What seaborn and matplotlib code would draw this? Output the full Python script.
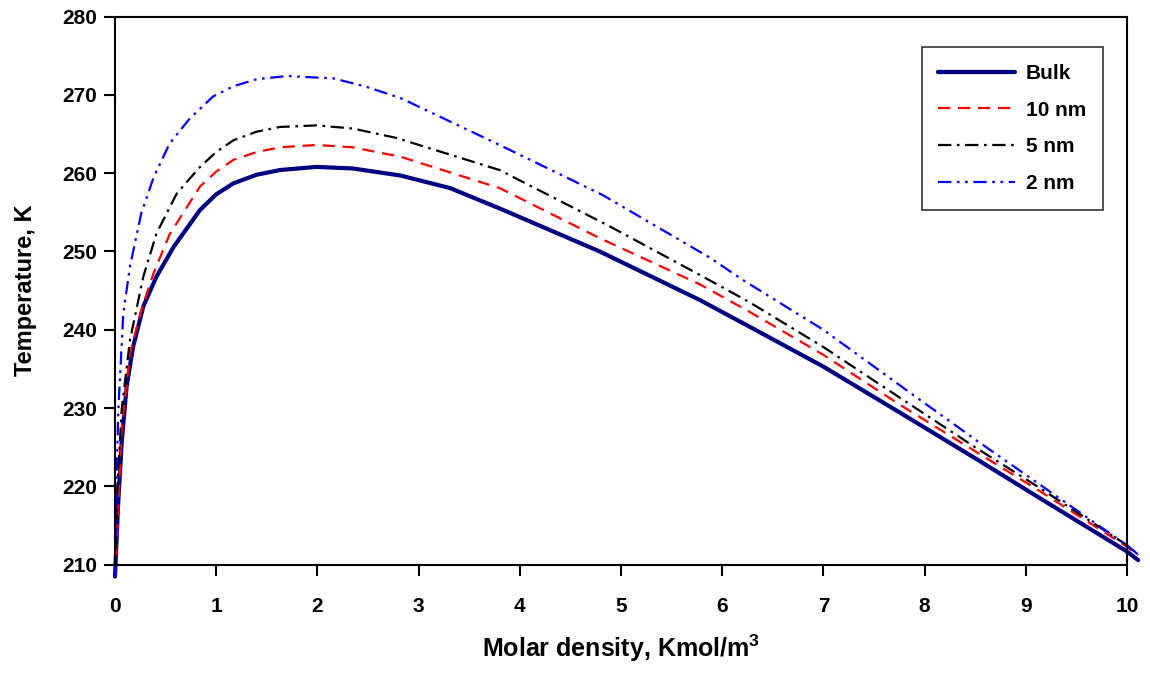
import pandas as pd
import matplotlib
matplotlib.use("Agg")
import matplotlib.pyplot as plt
import seaborn as sns

# Values (molar density in Kmol/m3, temperature in K)
bulk_x = [0.0, 0.03, 0.066, 0.115, 0.18, 0.28, 0.41, 0.58, 0.84, 1.0, 1.17, 1.4, 1.63, 1.99,
          2.35, 2.82, 3.31, 3.80, 4.79, 5.78, 6.27, 7.0, 7.76, 8.5, 9.14, 10.0, 10.11]
bulk_t = [208.5, 217.5, 225.6, 232.8, 237.9, 243.0, 246.8, 250.6, 255.3, 257.3, 258.7, 259.8, 260.4, 260.8,
          260.6, 259.7, 258.1, 255.5, 250.0, 243.8, 240.4, 235.3, 229.4, 223.6, 218.5, 211.7, 210.6]

nm10_x = [0.0, 0.033, 0.066, 0.148, 0.25, 0.38, 0.54, 0.84, 1.0, 1.17, 1.4, 1.63, 1.99, 2.35,
          2.82, 3.80, 4.79, 5.78, 6.27, 7.0, 7.76, 8.5, 9.14, 10.0, 10.11]
nm10_t = [208.5, 217.1, 227.5, 237.0, 242.1, 247.2, 252.2, 258.3, 260.2, 261.7, 262.7, 263.3, 263.6, 263.3,
          262.1, 258.1, 251.7, 245.8, 242.3, 236.8, 230.4, 224.5, 219.4, 212.3, 211.2]

nm5_x = [0.0, 0.02, 0.066, 0.148, 0.28, 0.41, 0.61, 0.84, 1.0, 1.17, 1.4, 1.63, 1.99, 2.35,
         2.78, 3.80, 4.89, 5.78, 6.26, 7.0, 7.76, 8.5, 9.14, 10.0, 10.11]
nm5_t = [208.5, 219.0, 229.8, 238.7, 246.8, 252.3, 257.4, 260.8, 262.7, 264.2, 265.3, 265.9, 266.1, 265.7,
         264.5, 260.4, 253.2, 247.0, 243.6, 237.8, 231.3, 225.0, 219.8, 212.5, 211.3]

nm2_x = [0.0, 0.01, 0.033, 0.082, 0.148, 0.26, 0.38, 0.54, 0.74, 0.97, 1.17, 1.40, 1.70, 2.16,
         2.49, 2.82, 3.80, 4.82, 5.88, 6.20, 7.0, 7.81, 8.5, 9.21, 10.0, 10.11]
nm2_t = [208.5, 218.0, 229.8, 242.1, 248.1, 254.9, 259.4, 263.8, 267.0, 269.8, 271.1, 272.0, 272.4, 272.1,
         271.0, 269.6, 263.6, 257.2, 249.2, 246.4, 240.0, 232.4, 226.0, 219.6, 212.5, 211.3]

labels = ["Bulk", "10 nm", "5 nm", "2 nm"]
x_ticks = list(range(0, 11))
y_ticks = list(range(210, 281, 10))

# Build one long table for seaborn
frames = []
for name, xs, ts in zip(labels, [bulk_x, nm10_x, nm5_x, nm2_x], [bulk_t, nm10_t, nm5_t, nm2_t]):
    frames.append(pd.DataFrame({"density": xs, "temperature": ts, "pore": name}))
data = pd.concat(frames, ignore_index=True)

# Line styles per series
styles = {
    "Bulk": dict(color="#000080", lw=3.0, dashes=None),
    "10 nm": dict(color="#FF0000", lw=1.6, dashes=(5.5, 3.5)),
    "5 nm": dict(color="#000000", lw=1.6, dashes=(6, 2.5, 1.2, 2.5)),
    "2 nm": dict(color="#0000FF", lw=1.6, dashes=(6, 2.5, 1.2, 2.5, 1.2, 2.5)),
}

sns.set_theme(style="white")
plt.rcParams["font.family"] = ["Liberation Sans", "DejaVu Sans"]
plt.rcParams["font.weight"] = "bold"
plt.rcParams["text.color"] = "black"
plt.rcParams["axes.labelcolor"] = "black"
plt.rcParams["xtick.color"] = "black"
plt.rcParams["ytick.color"] = "black"
plt.rcParams["mathtext.fontset"] = "custom"
plt.rcParams["mathtext.bf"] = "Liberation Sans:bold"
plt.rcParams["mathtext.rm"] = "Liberation Sans:bold"

fig = plt.figure(figsize=(11.5, 6.74), dpi=100)
ax = fig.add_axes([0.1, 0.162, 0.88, 0.8135])

for name in labels:
    st = styles[name]
    sub = data[data["pore"] == name]
    sns.lineplot(data=sub, x="density", y="temperature", ax=ax, color=st["color"],
                 linewidth=st["lw"], label=name, sort=False, estimator=None)
    line = ax.lines[-1]
    if st["dashes"] is not None:
        line.set_dashes(st["dashes"])
    line.set_clip_on(False)

ax.set_xlim(0, 10)
ax.set_ylim(210, 280)
ax.set_xticks(x_ticks)
ax.set_yticks(y_ticks)
ax.tick_params(axis="both", direction="out", length=8, width=1.5, labelsize=15,
               bottom=True, left=True, top=False, right=False,
               colors="black", labelcolor="black")
ax.tick_params(axis="x", pad=15)
ax.tick_params(axis="y", pad=5)
for lbl in ax.get_xticklabels() + ax.get_yticklabels():
    lbl.set_fontweight("bold")

for sp in ax.spines.values():
    sp.set_color("black")
    sp.set_linewidth(1.5)

ax.set_xlabel(r"Molar density, Kmol/m$^{3}$", fontsize=18, fontweight="bold",
              labelpad=12, color="black")
ax.set_ylabel("Temperature, K", fontsize=17, fontweight="bold", labelpad=18, color="black")

leg = ax.legend(loc="upper right", bbox_to_anchor=(0.976, 0.944), borderaxespad=0,
                frameon=True, fancybox=False, shadow=False, fontsize=15,
                handlelength=3.7, handletextpad=0.5, labelspacing=0.85,
                borderpad=0.8)
leg.get_frame().set_edgecolor("black")
leg.get_frame().set_linewidth(1.2)
for t in leg.get_texts():
    t.set_fontweight("bold")
    t.set_color("black")

fig.savefig("out.png", dpi=100)
